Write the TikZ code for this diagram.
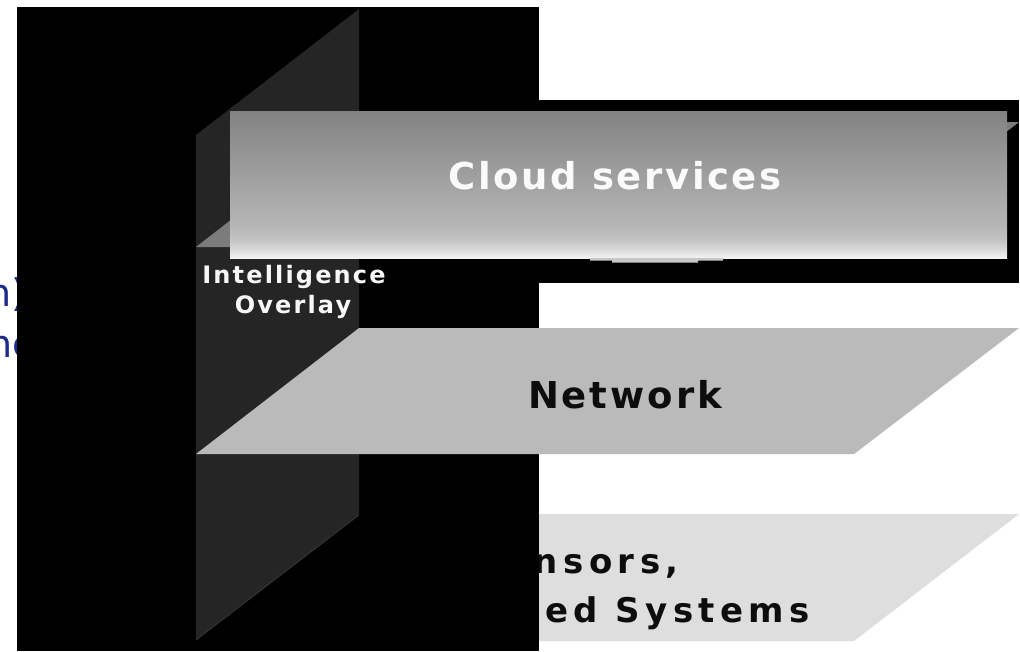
\documentclass[tikz,border=0pt]{standalone}
\usepackage{fontspec}
\setmainfont{DejaVu Sans}
\newfontfamily\cloudfont[LetterSpace=7]{DejaVu Sans}
\newfontfamily\netfont[LetterSpace=8]{DejaVu Sans}
\newfontfamily\sensorfont[LetterSpace=16]{DejaVu Sans}
\newfontfamily\overlayfont[LetterSpace=9]{DejaVu Sans}

\definecolor{panelgray}{HTML}{252525}
\definecolor{netgray}{HTML}{BABABA}
\definecolor{sensorgray}{HTML}{DEDEDE}
\definecolor{cloudgray}{HTML}{7C7C7C}
\definecolor{slideblue}{RGB}{28,43,140}
\definecolor{cloudbot}{HTML}{F3F3F3}
\definecolor{cloudA}{HTML}{DCDCDC}
\definecolor{cloudB}{HTML}{C4C4C4}
\definecolor{cloudC}{HTML}{B6B6B6}
\definecolor{cloudmid}{HTML}{A3A3A3}
\definecolor{cloudtop}{HTML}{828282}

\pgfdeclareverticalshading{cloudfade}{100bp}{color(0bp)=(cloudbot); color(25bp)=(cloudbot); color(27.7bp)=(cloudA); color(31bp)=(cloudB); color(36bp)=(cloudC); color(50bp)=(cloudmid); color(75bp)=(cloudtop); color(100bp)=(cloudtop)}

\begin{document}
\begin{tikzpicture}[
    x=1pt, y=-1pt,
    layer text/.style={inner sep=0pt, anchor=base},
    cloud text/.style={layer text, font=\cloudfont\bfseries\fontsize{37}{42}\selectfont, text=white!98!black},
    net text/.style={layer text, font=\netfont\bfseries\fontsize{37}{42}\selectfont, text=black!95},
    sensor text/.style={layer text, font=\sensorfont\bfseries\fontsize{34}{40}\selectfont, text=black!95},
    overlay text/.style={layer text, font=\overlayfont\bfseries\fontsize{24}{28}\selectfont, text=white!97!black},
    slide text/.style={inner sep=0pt, anchor=base west, font=\fontsize{38}{44}\selectfont, text=slideblue},
]
\useasboundingbox (0,0) rectangle (1020,651);
\fill[white] (0,0) rectangle (1020,651);

% Slide text behind the backdrop
\node[slide text] (slideA) at (-13,306) {n)};
\node[slide text] (slideB) at (-12,357) {nc};

% Bottom layer
\fill[sensorgray] (196,641) -- (854,641) -- (1019,514) -- (359,514) -- cycle;
\node[sensor text] (sensorsA) at (577,573) {Sensors,};
\node[sensor text] (sensorsB) at (584,622) {Embedded Systems};

% Black backdrop and shadow band
\fill[black] (17,7) rectangle (539,651);
\fill[black] (539,100) rectangle (1019,283);

% Intelligence overlay plane
\fill[panelgray] (196,135) -- (359,9) -- (359,515) -- (196,640) -- cycle;
\draw[black!78, line width=0.8pt] (196,640) -- (359,515);
\node[overlay text] (overlayA) at (294,283) {Intelligence};
\node[overlay text] (overlayB) at (293,313) {Overlay};

% Network layer
\fill[netgray] (196,454) -- (854,454) -- (1019,328) -- (359,328) -- cycle;
\node[net text] (network) at (625,408) {Network};

% Cloud layer
\fill[cloudgray] (196,247) -- (858,247) -- (1019,122) -- (357,122) -- cycle;
\shade[shading=cloudfade] (230,111) rectangle (1007,258);
\fill[black!22] (590,258) -- (723,258) -- (723,260.5) -- (698,260.5) -- (698,262.5) -- (612,262.5) -- (612,260.5) -- (590,260.5) -- cycle;
\node[cloud text] (cloud) at (615,189) {Cloud services};

\end{tikzpicture}
\end{document}
